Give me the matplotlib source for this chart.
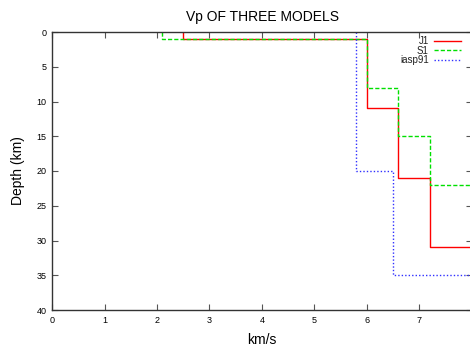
import numpy as np
import matplotlib
matplotlib.use('Agg')
import matplotlib.pyplot as plt

plt.rcParams['font.family'] = ['Liberation Sans', 'DejaVu Sans']

# layer velocities (km/s) and layer top depths (km); last layer continues to bottom
j1_vel = [2.5, 6.0, 6.6, 7.2, 8.1]
j1_top = [0, 1, 11, 21, 31]
s1_vel = [2.1, 6.0, 6.6, 7.2, 8.1]
s1_top = [0, 1, 8, 15, 22]
iasp_vel = [5.8, 6.5, 8.04]
iasp_top = [0, 20, 35]
bottom = 40


def staircase(vel, top):
    # turn layers into a step profile (x = velocity, y = depth)
    bot = top[1:] + [bottom]
    x = np.repeat(vel, 2)
    y = np.ravel(np.column_stack([top, bot]))
    return x, y


fig = plt.figure(figsize=(4.7, 3.47), dpi=100)
ax = fig.add_axes([52 / 470, 1 - 310 / 347, (472 - 52) / 470, (310 - 32) / 347])

x, y = staircase(j1_vel, j1_top)
ax.plot(x, y, color='#ff0000', lw=1.0, ls='-', label='J1')
x, y = staircase(s1_vel, s1_top)
ax.plot(x, y, color='#00e000', lw=1.0, ls=(0, (3, 1.5)), label='S1')
x, y = staircase(iasp_vel, iasp_top)
ax.plot(x, y, color='#3030ff', lw=1.0, ls=(0, (1, 1.5)), label='iasp91')

ax.set_xlim(0, 8)
ax.set_ylim(40, 0)
ax.set_xticks(range(0, 8))
ax.set_yticks(range(0, 41, 5))
ax.tick_params(direction='in', length=4, width=0.8, color='#555555',
               labelsize=6.5, top=True, right=True, pad=4)
for s in ax.spines.values():
    s.set_color('#333333')
    s.set_linewidth(1.0)

ax.set_title('Vp OF THREE MODELS', fontsize=10, pad=8)
ax.set_xlabel('km/s', fontsize=10, labelpad=6)
ax.set_ylabel('Depth (km)', fontsize=10, labelpad=8)

leg = ax.legend(loc='upper right', bbox_to_anchor=(0.99, 1.01), frameon=False,
                fontsize=7, markerfirst=False, handlelength=2.8,
                handletextpad=0.5, labelspacing=-0.05, borderaxespad=0.3)
for t in leg.get_texts():
    t.set_ha('right')
    t.set_color('#222222')

fig.savefig('out.png', dpi=100)
